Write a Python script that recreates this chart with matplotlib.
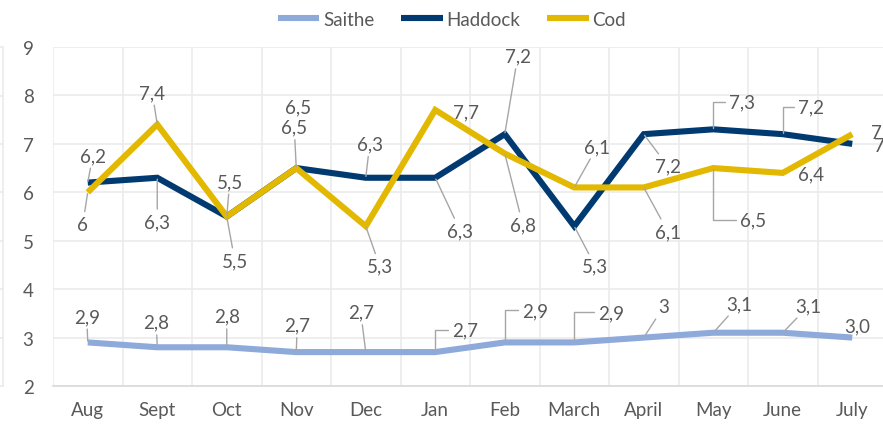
import matplotlib.pyplot as plt
from matplotlib.lines import Line2D

plt.rcParams['font.family'] = ['Lato', 'DejaVu Sans']

months = ['Aug', 'Sept', 'Oct', 'Nov', 'Dec', 'Jan', 'Feb', 'March',
          'April', 'May', 'June', 'July']
saithe = [2.9, 2.8, 2.8, 2.7, 2.7, 2.7, 2.9, 2.9, 3.0, 3.1, 3.1, 3.0]
haddock = [6.2, 6.3, 5.5, 6.5, 6.3, 6.3, 7.2, 5.3, 7.2, 7.3, 7.2, 7.0]
cod = [6.0, 7.4, 5.5, 6.5, 5.3, 7.7, 6.8, 6.1, 6.1, 6.5, 6.4, 7.2]
yticks = [2, 3, 4, 5, 6, 7, 8, 9]

# the one label that Excel printed with a decimal
label_override = {('Saithe', 11): '3,0'}

# data label layout: offset in pixels (x right, y down) and leader type
saithe_lbl = [((-1, -26), 'line'), ((-1, -25), 'line'), ((0, -31), 'line'),
              ((1, -27), 'line'), ((-5, -40), 'line'), ((30, -22), 'elbow'),
              ((30, -32), 'elbow'), ((37, -30), 'elbow'), ((20, -31), 'line'),
              ((26, -29), 'line'), ((26, -27), 'line'), ((5, -12), None)]
haddock_lbl = [((5, -27), 'line'), ((0, 44), 'line'), ((3, -35), 'line'),
               ((-2, -41), 'line'), ((4, -34), 'line'), ((25, 53), 'line'),
               ((13, -78), 'line'), ((21, 40), 'line'), ((24, 32), 'line'),
               ((29, -27), 'elbow'), ((28, -27), 'elbow'), ((22, 2), None)]
cod_lbl = [((-5, 32), 'line'), ((-5, -32), 'line'), ((8, 44), 'line'),
           ((2, -61), None), ((14, 40), 'line'), ((31, 2), None),
           ((18, 71), 'line'), ((23, -41), 'line'), ((24, 44), 'line'),
           ((40, 52), 'elbow'), ((28, 1), None), ((19, -2), None)]

text_col = '#595959'
grid_col = '#ebebeb'
leader_col = '#a6a6a6'
fs = 13.5

fig = plt.figure(figsize=(8.83, 4.27), dpi=100)
ax = fig.add_axes([53 / 883, 1 - 387 / 427, 834 / 883, 339 / 427])

x = list(range(len(months)))
series = [('Saithe', saithe, '#8eaadb', saithe_lbl),
          ('Haddock', haddock, '#003a70', haddock_lbl),
          ('Cod', cod, '#e2b800', cod_lbl)]

for name, vals, col, lbls in series:
    ax.plot(x, vals, color=col, lw=4.4, label=name,
            solid_joinstyle='miter', solid_capstyle='butt', zorder=3)

for name, vals, col, lbls in series:
    for i, v in enumerate(vals):
        txt = label_override.get((name, i), f'{v:g}'.replace('.', ','))
        (dx, dy), leader = lbls[i]
        ha = 'left' if i == len(vals) - 1 and name != 'Saithe' else 'center'
        props = None
        if leader == 'line':
            props = dict(arrowstyle='-', color=leader_col, lw=1.0,
                         shrinkA=1, shrinkB=1)
        elif leader == 'elbow':
            props = dict(arrowstyle='-', color=leader_col, lw=1.0,
                         shrinkA=1, shrinkB=1,
                         connectionstyle='angle,angleA=0,angleB=90,rad=0')
        ax.annotate(txt, (i, v), xytext=(dx, -dy), textcoords='offset pixels',
                    ha=ha, va='center', fontsize=fs, color=text_col,
                    arrowprops=props, zorder=5, annotation_clip=False)

ax.set_xlim(-0.5, 11.5)
ax.set_ylim(2, 9)
ax.set_yticks(yticks)
ax.set_xticks(x)
ax.set_xticklabels(months)
ax.set_xticks([i - 0.5 for i in range(13)], minor=True)
ax.tick_params(axis='both', which='both', length=0, labelsize=fs,
               labelcolor=text_col)
ax.tick_params(axis='y', pad=14)
ax.tick_params(axis='x', pad=11)
ax.grid(axis='y', which='major', color=grid_col, lw=1.2)
ax.grid(axis='x', which='minor', color=grid_col, lw=1.2)
ax.set_axisbelow(True)
for side in ['left', 'top', 'right']:
    ax.spines[side].set_visible(False)
ax.spines['bottom'].set_color('#d9d9d9')
ax.spines['bottom'].set_linewidth(1.2)

# edge of the neighbouring chart on the far left
fig.add_artist(Line2D([3 / 883, 3 / 883], [1 - 48 / 427, 1 - 387 / 427],
                      color=grid_col, lw=1.2))
for t in yticks:
    yy = 1 - (387 - (t - 2) * 48.4) / 427
    fig.add_artist(Line2D([0, 3 / 883], [yy, yy], color=grid_col, lw=1.2))

fig.legend(loc='center', bbox_to_anchor=(452 / 883, 1 - 20 / 427), ncol=3,
           frameon=False, handlelength=2.2, handletextpad=0.2,
           columnspacing=1.45, fontsize=fs, labelcolor=text_col)

fig.savefig('out.png', dpi=100)
